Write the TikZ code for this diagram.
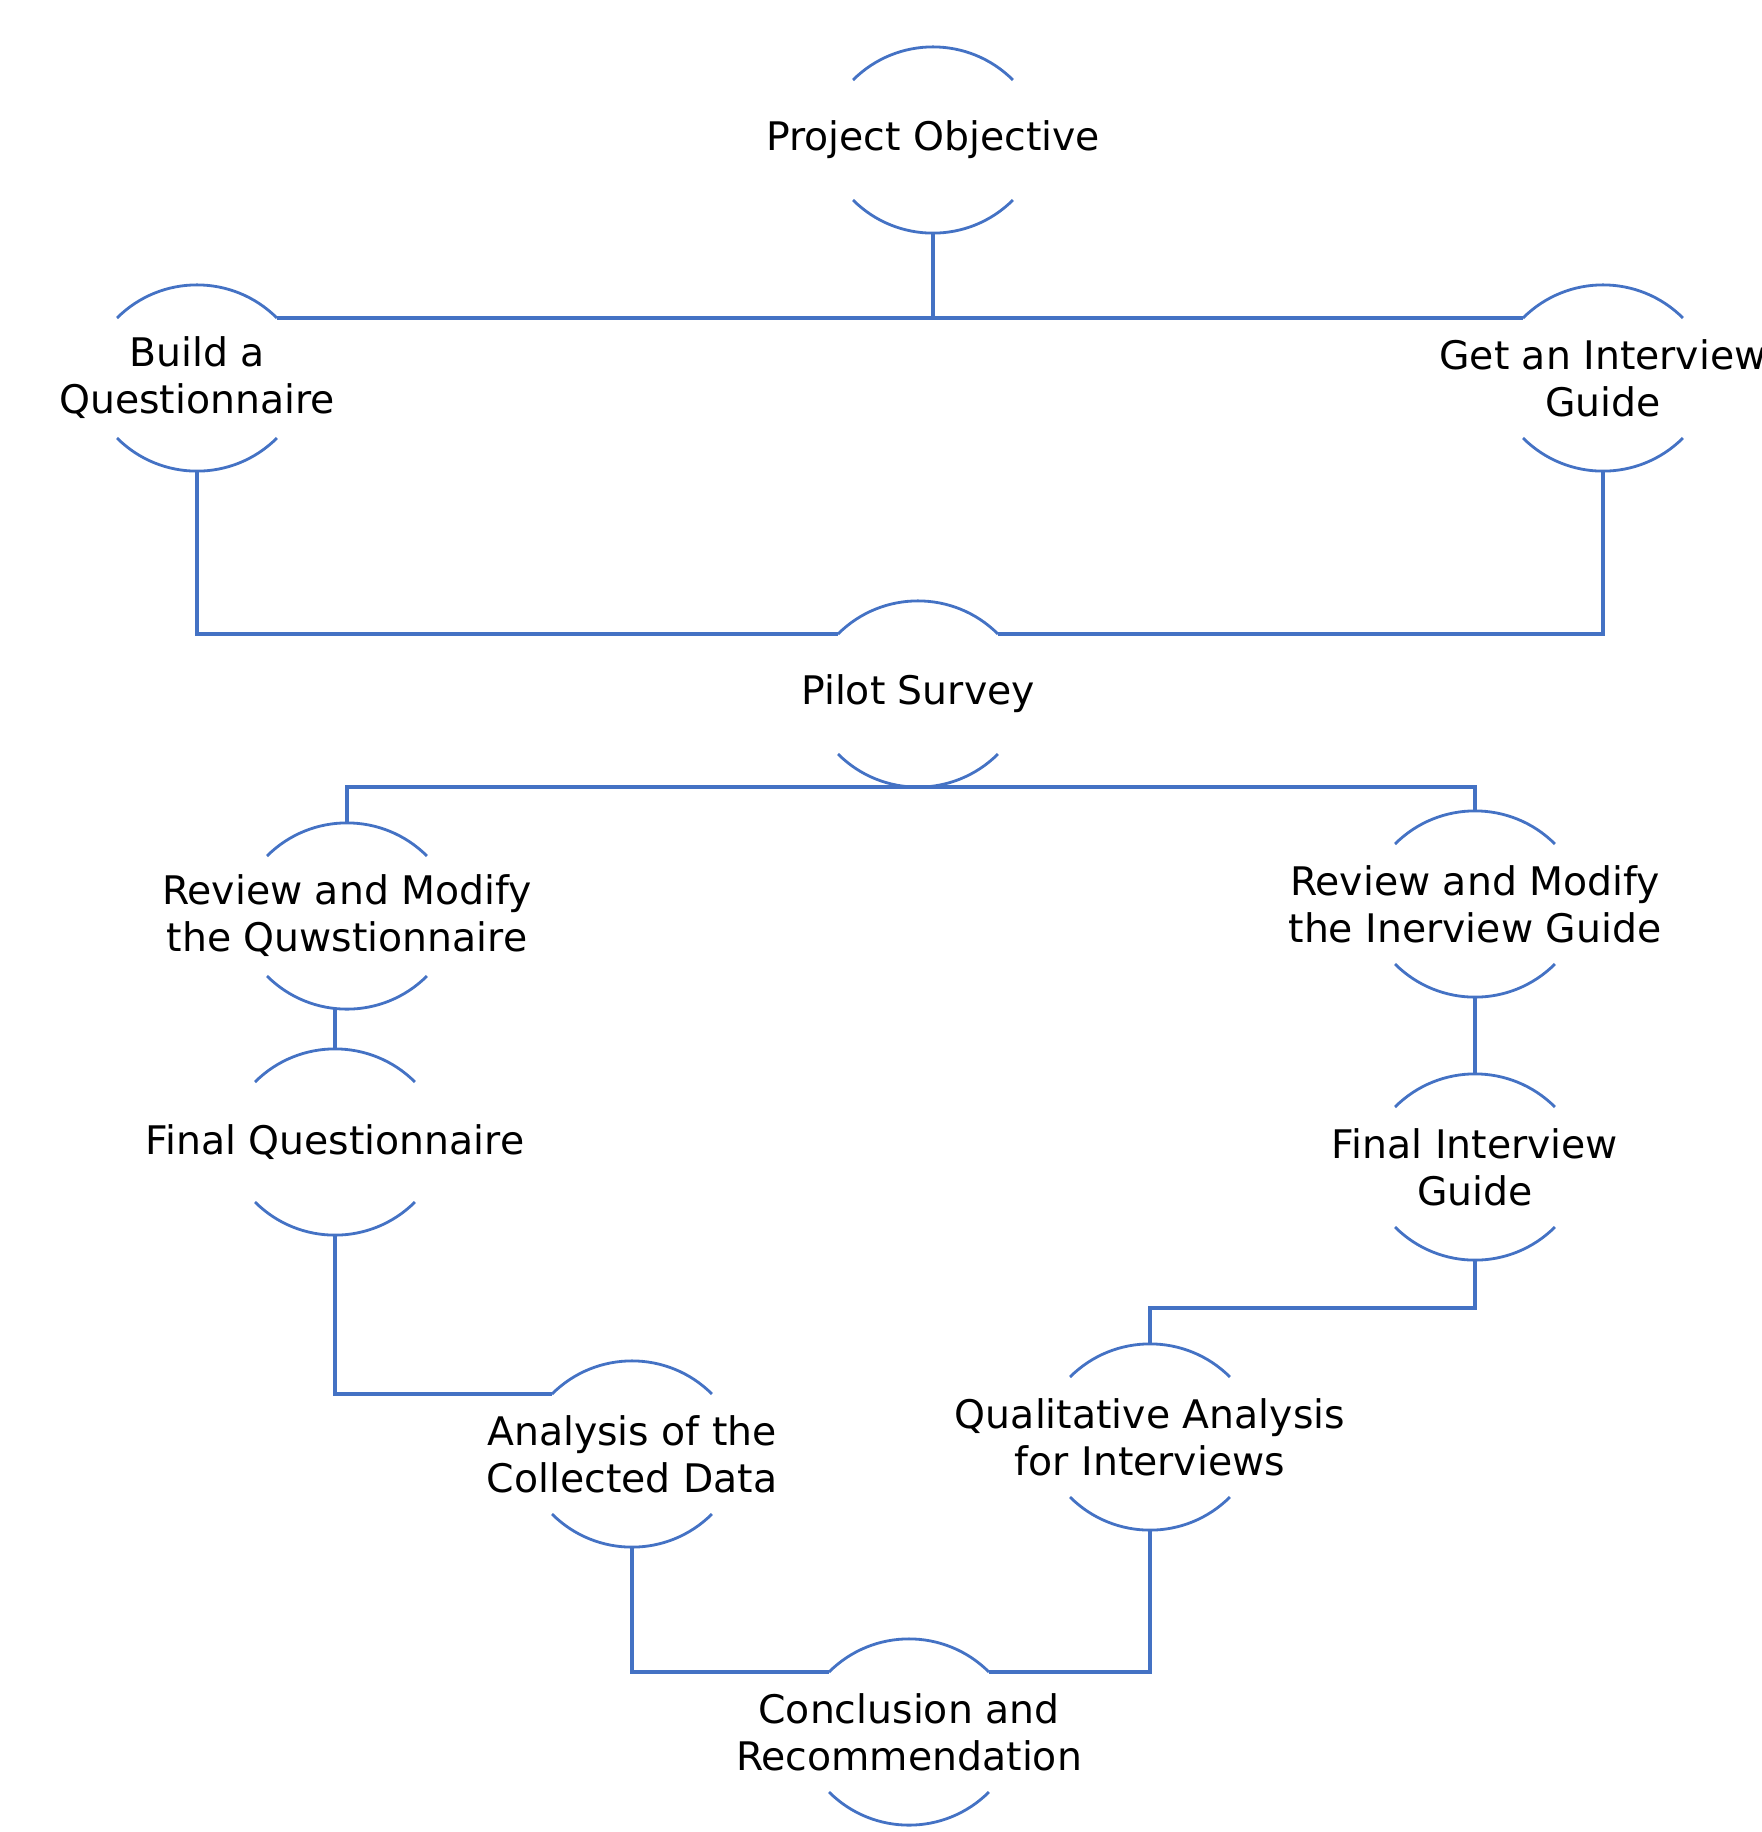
\documentclass[tikz,border=0pt]{standalone}
\usepackage{fontspec}
\setmainfont{DejaVu Sans}
\usepackage{tikz}
\usetikzlibrary{calc}

\definecolor{flowblue}{RGB}{68,114,196}

\tikzset{
	stagetext/.style={align=center,inner sep=0pt,text=black,font=\fontsize{11.2}{13.4}\selectfont},
	arcline/.style={draw=flowblue,line width=0.8pt},
	link/.style={draw=flowblue,line width=1.1pt}
}

\newcommand{\stagenode}[3]{%
	\node[stagetext] (#1) at (#2) {#3};
	\begin{scope}[shift={(#1.center)}]
		\draw[arcline] (-0.8,0.6) arc[start angle=135,end angle=45,radius=1.131];
		\draw[arcline] (-0.8,-0.6) arc[start angle=225,end angle=315,radius=1.131];
		\coordinate (#1-t) at (0,0.931);
		\coordinate (#1-b) at (0,-0.931);
		\coordinate (#1-tl) at (-0.8,0.6);
		\coordinate (#1-tr) at (0.8,0.6);
	\end{scope}}

\begin{document}
\begin{tikzpicture}
	\useasboundingbox (0,0) rectangle (17.62,-18.32);

	\stagenode{po}{9.33,-1.40}{Project Objective}
	\stagenode{bq}{1.97,-3.78}{Build a\\Questionnaire}
	\stagenode{gi}{16.03,-3.78}{Get an Interview\\Guide}
	\stagenode{ps}{9.18,-6.94}{Pilot Survey}

	\stagenode{rq}{3.47,-9.16}{Review and Modify\\the Quwstionnaire}
	\stagenode{fq}{3.35,-11.42}{Final Questionnaire}
	\stagenode{ri}{14.75,-9.04}{Review and Modify\\the Inerview Guide}
	\stagenode{fi}{14.75,-11.67}{Final Interview\\Guide}

	\stagenode{ad}{6.32,-14.54}{Analysis of the\\Collected Data}
	\stagenode{qa}{11.50,-14.37}{Qualitative Analysis\\for Interviews}
	\stagenode{cr}{9.09,-17.32}{Conclusion and\\Recommendation}

	\draw[link] (po-b) -- (po-b |- bq-tr);
	\draw[link] (bq-tr) -- (gi-tl);

	\draw[link] (bq-b) -- (bq-b |- ps-tl) -- (ps-tl);
	\draw[link] (gi-b) -- (gi-b |- ps-tr) -- (ps-tr);

	\draw[link] (rq-t) -- (rq-t |- ps-b) -- (ri-t |- ps-b) -- (ri-t);

	\draw[link] (fq-t) -- (fq-t |- rq-b);
	\draw[link] (ri-b) -- (fi-t);

	\draw[link] (fq-b) -- (fq-b |- ad-tl) -- (ad-tl);
	\draw[link] (fi-b) -- ++(0,-0.48) -| (qa-t);

	\draw[link] (ad-b) -- (ad-b |- cr-tl) -- (cr-tl);
	\draw[link] (qa-b) -- (qa-b |- cr-tr) -- (cr-tr);

\end{tikzpicture}
\end{document}
